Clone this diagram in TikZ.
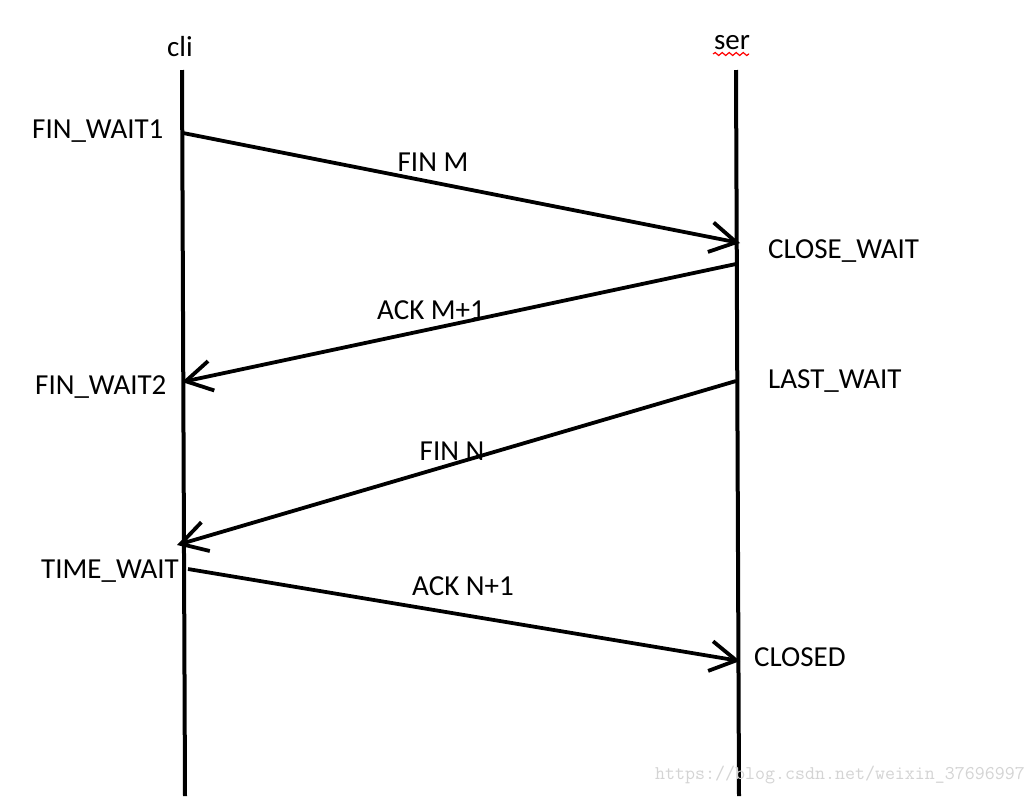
\documentclass[tikz,border=0pt]{standalone}
\usepackage{fontspec}
\setmainfont{Carlito}
\usetikzlibrary{arrows.meta,decorations.pathmorphing}
\begin{document}
\begin{tikzpicture}[x=1pt,y=-1pt,
  lifeline/.style={line width=4pt},
  msg/.style={line width=3.8pt,-{Straight Barb[length=26pt,width=30pt]}},
  lbl/.style={font=\fontsize{29}{33}\selectfont,inner sep=0pt},
  wm/.style={font=\ttfamily\fontsize{19.4}{22}\selectfont,text=black!17,inner sep=0pt}]
\useasboundingbox (0,0) rectangle (1036,796);
\fill[white] (0,0) rectangle (1036,796);
% lifelines
\coordinate (cliTop) at (182,70);
\coordinate (cliBot) at (185,796);
\coordinate (serTop) at (736,70);
\coordinate (serBot) at (739,796);
\draw[lifeline] (cliTop) -- (cliBot);
\draw[lifeline] (serTop) -- (serBot);
% headers
\node[lbl] (cli) at (180,47) {cli};
\node[lbl] (ser) at (732,43) {ser};
\draw[red,line width=1.2pt,decorate,decoration={snake,amplitude=1.5pt,segment length=7pt}] (713,54) -- (749,54);
% message end points
\coordinate (a1) at (183,133);
\coordinate (b1) at (740,243);
\coordinate (a2) at (736,264);
\coordinate (b2) at (182,382);
\coordinate (a3) at (736,381);
\coordinate (b3) at (177,545);
\coordinate (a4) at (188,569);
\coordinate (b4) at (740,661);
\draw[msg] (a1) -- (b1);
\draw[msg] (a2) -- (b2);
\draw[msg] (a3) -- (b3);
\draw[msg] (a4) -- (b4);
% states
\node[lbl,anchor=west] (s1) at (32,131) {FIN\_WAIT1};
\node[lbl,anchor=west] (s2) at (768,251) {CLOSE\_WAIT};
\node[lbl,anchor=west] (s3) at (35,387) {FIN\_WAIT2};
\node[lbl,anchor=west] (s4) at (768,381) {LAST\_WAIT};
\node[lbl,anchor=west] (s5) at (41,571) {TIME\_WAIT};
\node[lbl,anchor=west] (s6) at (754,657) {CLOSED};
% message labels
\node[lbl] (m1) at (433,162) {FIN M};
\node[lbl] (m2) at (431,310) {ACK M+1};
\node[lbl] (m3) at (452,451) {FIN N};
\node[lbl] (m4) at (463,586) {ACK N+1};
% watermark
\node[wm,anchor=west] (wmk) at (655,775) {https://blog.csdn.net/weixin\_37696997};
\end{tikzpicture}
\end{document}
